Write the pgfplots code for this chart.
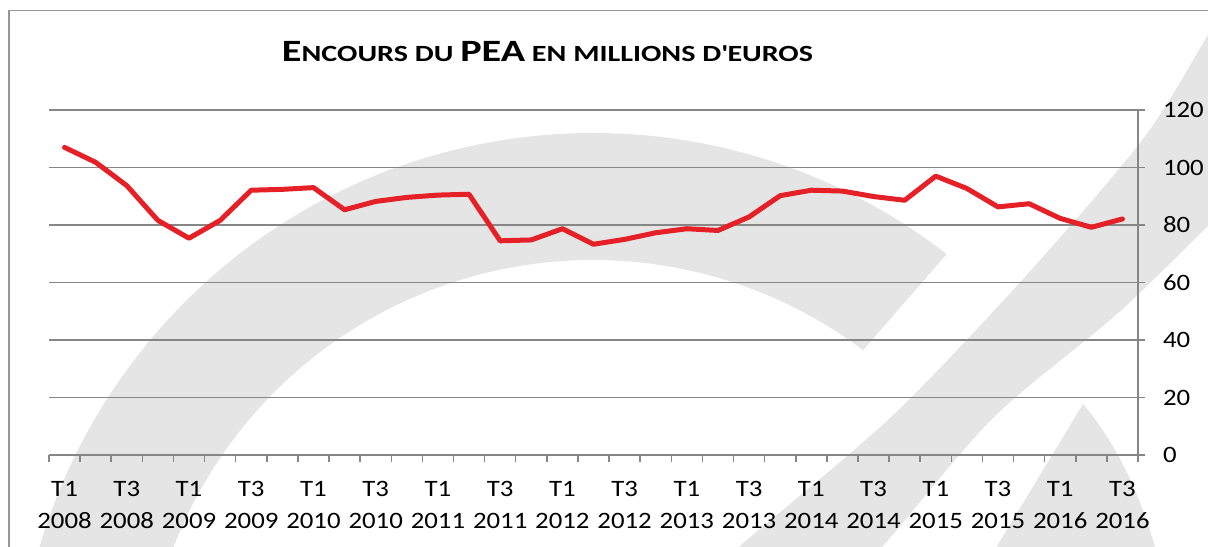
\documentclass[border=0pt]{standalone}
\usepackage{fontspec}
\setmainfont{Carlito}[FakeStretch=1.14]
\usepackage{graphicx}
\usepackage{pgfplots}
\pgfplotsset{compat=1.18}
\definecolor{redline}{RGB}{230,32,39}
\definecolor{gridc}{RGB}{134,134,134}
\definecolor{wm}{RGB}{229,229,229}
\definecolor{framec}{RGB}{150,150,150}

\pgfplotstableread{
i v
0 107.0
1 101.8
2 93.7
3 81.6
4 75.4
5 81.6
6 92.1
7 92.4
8 93.0
9 85.3
10 88.2
11 89.6
12 90.4
13 90.7
14 74.5
15 74.8
16 78.7
17 73.3
18 75.0
19 77.3
20 78.7
21 78.1
22 82.8
23 90.2
24 92.1
25 91.8
26 89.9
27 88.6
28 97.0
29 92.7
30 86.3
31 87.4
32 82.3
33 79.2
34 82.1
}\encours

\begin{document}
\begin{tikzpicture}
\path[use as bounding box] (0,0) rectangle (604pt,273pt);
\begin{scope}[x=0.5pt,y=0.5pt]
\clip (0,0) rectangle (1208,546);
\fill[wm] (946.6,291.9) arc[start angle=52.2,end angle=200,radius=577] -- (170.1,-317.9) arc[start angle=200,end angle=53.1,radius=450] -- cycle;
\fill[wm] plot[smooth] coordinates {(1240,560) (1208,511) (1143,407) (1023,267) (890,128) (740,0) (700,-40)} -- plot[smooth] coordinates {(850,-30) (883,0) (993,128) (1117,232) (1208,320) (1240,350)} -- cycle;
\fill[wm] (1083,142) -- (985,-20) -- (1160,-20) .. controls (1140,60) and (1110,110) .. (1083,142) -- cycle;
\draw[framec, line width=0.6pt] (9,-10) -- (9,535.5) -- (1220,535.5);
\end{scope}
\begin{axis}[
  at={(24.5pt,45.5pt)}, anchor=south west,
  width=544.5pt, height=172.5pt, scale only axis,
  xmin=-0.5, xmax=34.5, ymin=0, ymax=120,
  axis x line*=bottom, axis y line*=right,
  axis line style={-, gridc, line width=0.75pt},
  ytick={0,20,...,120},
  ymajorgrids, grid style={gridc, line width=0.75pt},
  xtick={0,2,...,34},
  xticklabels={T1\\2008,T3\\2008,T1\\2009,T3\\2009,T1\\2010,T3\\2010,T1\\2011,T3\\2011,T1\\2012,T3\\2012,T1\\2013,T3\\2013,T1\\2014,T3\\2014,T1\\2015,T3\\2015,T1\\2016,T3\\2016},
  minor xtick={-0.5,0.5,...,34.5},
  major x tick style={draw=none},
  minor x tick style={gridc, line width=0.75pt},
  y tick style={gridc, line width=0.75pt},
  tick align=outside,
  major tick length=3.5pt, minor tick length=3.5pt,
  xticklabel style={align=center, font=\fontsize{11.75}{16.2}\selectfont, text=black, yshift=-6pt},
  yticklabel style={font=\fontsize{11.75}{14}\selectfont, text=black, xshift=5.5pt},
  /pgf/number format/assume math mode=true,
  clip=false,
]
\addplot[redline, line width=2.5pt, line cap=round, line join=round] table[x=i,y=v] {\encours};
\end{axis}
\node[anchor=base, font=\bfseries, inner sep=0pt] at (273.75pt,242pt) {\resizebox{265.5pt}{\height}{\fontsize{15.5}{18}\selectfont E\fontsize{11.6}{14}\selectfont NCOURS DU \fontsize{15.5}{18}\selectfont PEA\fontsize{11.6}{14}\selectfont{} EN MILLIONS D\textquotesingle EUROS}};
\end{tikzpicture}
\end{document}
